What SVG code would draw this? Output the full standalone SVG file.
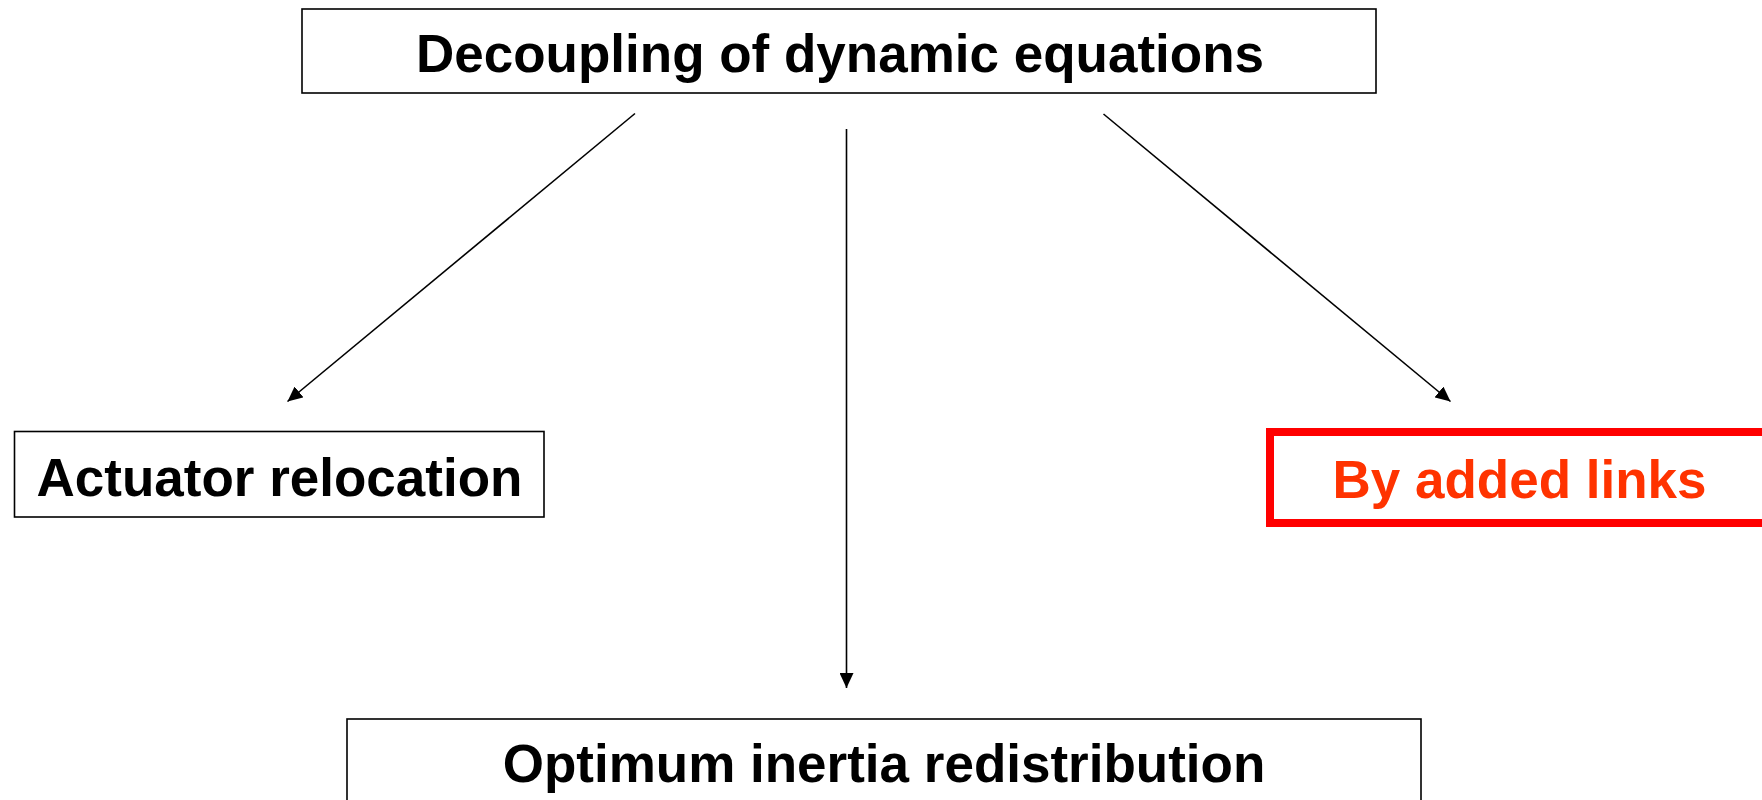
<svg xmlns="http://www.w3.org/2000/svg" width="1762" height="800" viewBox="0 0 1762 800">
<style>
.box{fill:#fff;stroke:#000;stroke-width:1.6}
.red{fill:#fff;stroke:#ff0000;stroke-width:8}
.lbl{font-family:"Liberation Sans",Arial,sans-serif;font-weight:bold;font-size:53px;text-anchor:middle;fill:#000}
.lblred{fill:#ff3300}
.conn{stroke:#000;stroke-width:1.6;fill:none;marker-end:url(#ah)}
</style>
<defs>
<marker id="ah" markerUnits="userSpaceOnUse" markerWidth="16" markerHeight="14" refX="15" refY="7" orient="auto">
<path d="M0,0 L15,7 L0,14 z" fill="#000"/>
</marker>
</defs>
<rect width="1762" height="800" fill="#fff"/>
<g id="connectors">
<line class="conn" x1="635" y1="113.5" x2="287.5" y2="401.5"/>
<line class="conn" x1="846.5" y1="129" x2="846.5" y2="688"/>
<line class="conn" x1="1103.5" y1="114" x2="1450.5" y2="401.5"/>
</g>
<g id="node-decoupling">
<rect class="box" x="302" y="9" width="1074" height="84"/>
<text class="lbl" x="840" y="72">Decoupling of dynamic equations</text>
</g>
<g id="node-actuator">
<rect class="box" x="14.5" y="431.5" width="529.5" height="85.5"/>
<text class="lbl" x="279.5" y="496">Actuator relocation</text>
</g>
<g id="node-links">
<rect class="red" x="1270" y="432" width="600" height="91"/>
<text class="lbl lblred" x="1519.5" y="498">By added links</text>
</g>
<g id="node-optimum">
<rect class="box" x="347" y="719" width="1074" height="120"/>
<text class="lbl" x="884" y="782">Optimum inertia redistribution</text>
</g>
</svg>
